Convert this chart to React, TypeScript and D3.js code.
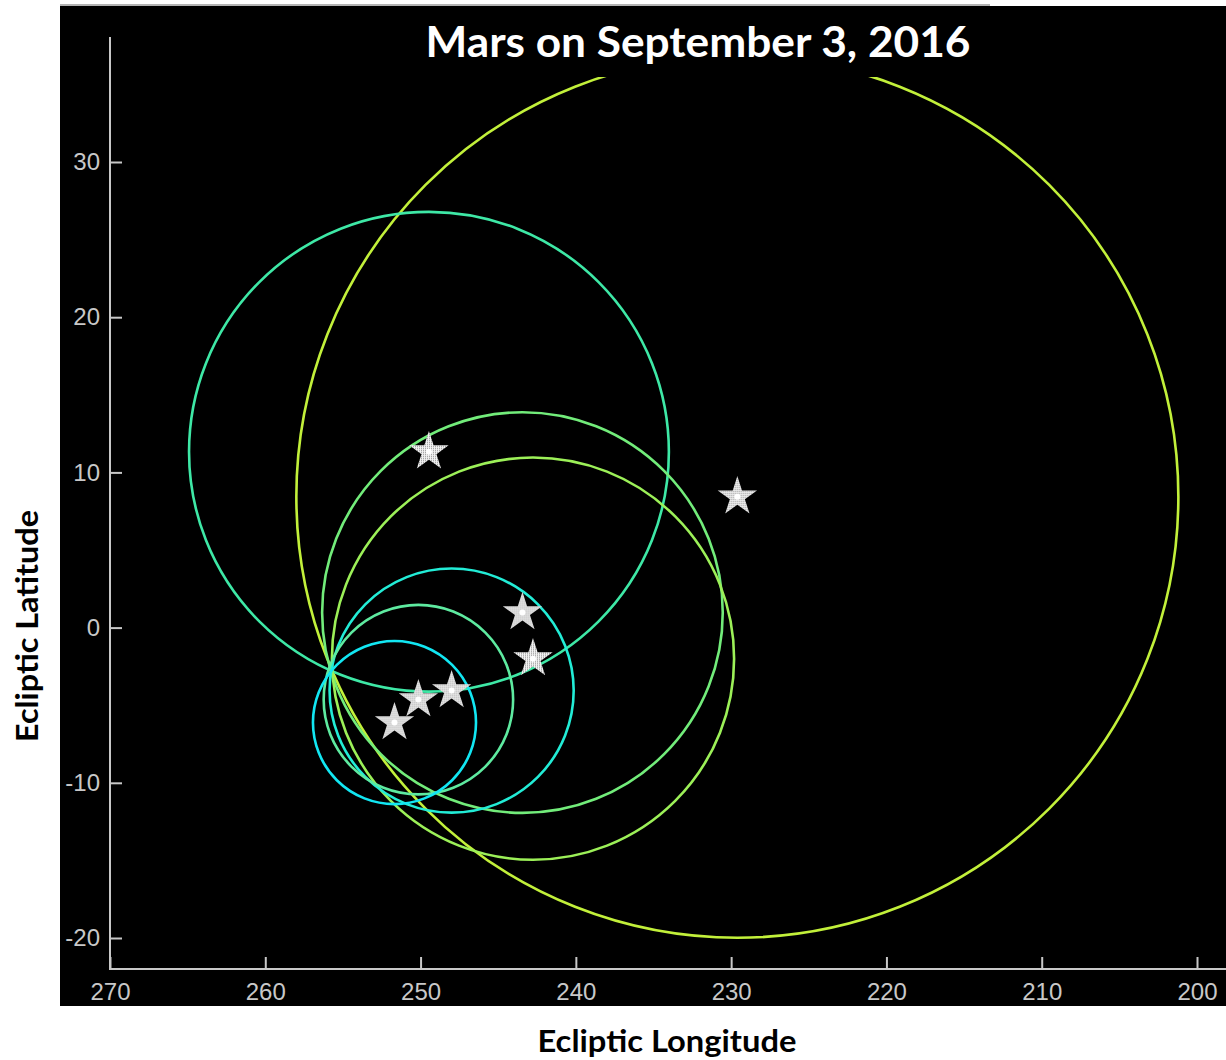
import * as d3 from 'd3'
import { useEffect, useRef } from 'react'

// circles of possible positions, centre of each marked by a star
const centerLon = [229.6, 249.46, 243.44, 242.76, 248.0, 250.14, 251.68]
const centerLat = [8.43, 11.33, 0.97, -2.0, -4.06, -4.64, -6.12]
const radii = [28.4, 15.45, 12.9, 12.95, 7.86, 6.1, 5.25]
const colors = ['#c2f03a', '#3ee8a6', '#72ec7a', '#9cf058', '#22ecd6', '#5eeaa0', '#12e6f2']

const xTicks = [270, 260, 250, 240, 230, 220, 210, 200]
const yTicks = [-20, -10, 0, 10, 20, 30]

const title = 'Mars on September 3, 2016'
const xLabel = 'Ecliptic Longitude'
const yLabel = 'Ecliptic Latitude'

export default function App() {
  const ref = useRef<SVGSVGElement>(null)

  useEffect(() => {
    const W = 1226
    const H = 1060
    const svg = d3.select(ref.current)
    svg.selectAll('*').remove()
    svg.attr('width', W).attr('height', H)

    const x = d3.scaleLinear().domain([270, 200]).range([110, 1197])
    const y = d3.scaleLinear().domain([-20, 30]).range([938, 162])
    const axisColor = '#c8c8c8'

    const defs = svg.append('defs')
    const pat = defs
      .append('pattern')
      .attr('id', 'stipple')
      .attr('width', 2)
      .attr('height', 2)
      .attr('patternUnits', 'userSpaceOnUse')
    pat.append('rect').attr('width', 2).attr('height', 2).attr('fill', '#f2f2f2')
    pat.append('rect').attr('width', 1).attr('height', 1).attr('fill', '#8a8a8a')

    // plot background
    svg.append('rect').attr('x', 60).attr('y', 6).attr('width', W - 60).attr('height', 1000).attr('fill', '#000')
    svg
      .append('line')
      .attr('x1', 60)
      .attr('x2', 990)
      .attr('y1', 5)
      .attr('y2', 5)
      .attr('stroke', '#9a9a9a')
      .attr('stroke-width', 1.5)

    const g = svg.append('g')
    const scale = Math.abs(x(1) - x(0))
    centerLon.forEach((lon, i) => {
      g.append('circle')
        .attr('cx', x(lon))
        .attr('cy', y(centerLat[i]))
        .attr('r', radii[i] * scale)
        .attr('fill', 'none')
        .attr('stroke', colors[i])
        .attr('stroke-width', 2.6)
    })

    // title box covers the top of the big circle
    svg.append('rect').attr('x', 410).attr('y', 6).attr('width', 580).attr('height', 71).attr('fill', '#000')
    const boldText = (sel, size, len) =>
      sel
        .attr('text-anchor', 'middle')
        .attr('textLength', len)
        .attr('lengthAdjust', 'spacingAndGlyphs')
        .style('font-family', 'Lato, sans-serif')
        .style('font-weight', 700)
        .style('font-size', `${size}px`)
    boldText(svg.append('text').attr('x', 698).attr('y', 57).attr('fill', '#fff'), 42, 545).text(title)

    const star = d3.symbol().type(d3.symbolStar).size(480)
    centerLon.forEach((lon, i) => {
      const sg = g.append('g').attr('transform', `translate(${x(lon)},${y(centerLat[i])})`)
      sg.append('path').attr('d', star()).attr('fill', 'url(#stipple)')
      sg.append('circle').attr('r', 3).attr('fill', '#fff')
    })

    // axes
    const fmt = (d) => String(d)
    const xAxis = svg
      .append('g')
      .attr('transform', 'translate(0,969)')
      .call(d3.axisBottom(x).tickValues(xTicks).tickFormat(fmt).tickSize(-12).tickPadding(14))
    const yAxis = svg
      .append('g')
      .attr('transform', 'translate(110,0)')
      .call(d3.axisLeft(y).tickValues(yTicks).tickFormat(fmt).tickSize(-12).tickPadding(10))
    ;[xAxis, yAxis].forEach((a) => {
      a.select('.domain').remove()
      a.selectAll('line').attr('stroke', axisColor).attr('stroke-width', 2)
      a.selectAll('text')
        .attr('fill', axisColor)
        .style('font-family', '"Liberation Sans", Arial, sans-serif')
        .style('font-size', '24px')
    })
    svg.append('line').attr('x1', 110).attr('x2', W).attr('y1', 969).attr('y2', 969).attr('stroke', axisColor).attr('stroke-width', 2)
    svg.append('line').attr('x1', 110).attr('x2', 110).attr('y1', 37).attr('y2', 970).attr('stroke', axisColor).attr('stroke-width', 2)

    boldText(svg.append('text').attr('x', 667).attr('y', 1052).attr('fill', '#000'), 30, 259).text(xLabel)
    boldText(svg.append('text').attr('transform', 'translate(38,626) rotate(-90)').attr('fill', '#000'), 30, 232).text(yLabel)
  }, [])

  return <svg ref={ref} style={{ position: 'absolute', left: 0, top: 0, background: '#fff' }}></svg>
}
